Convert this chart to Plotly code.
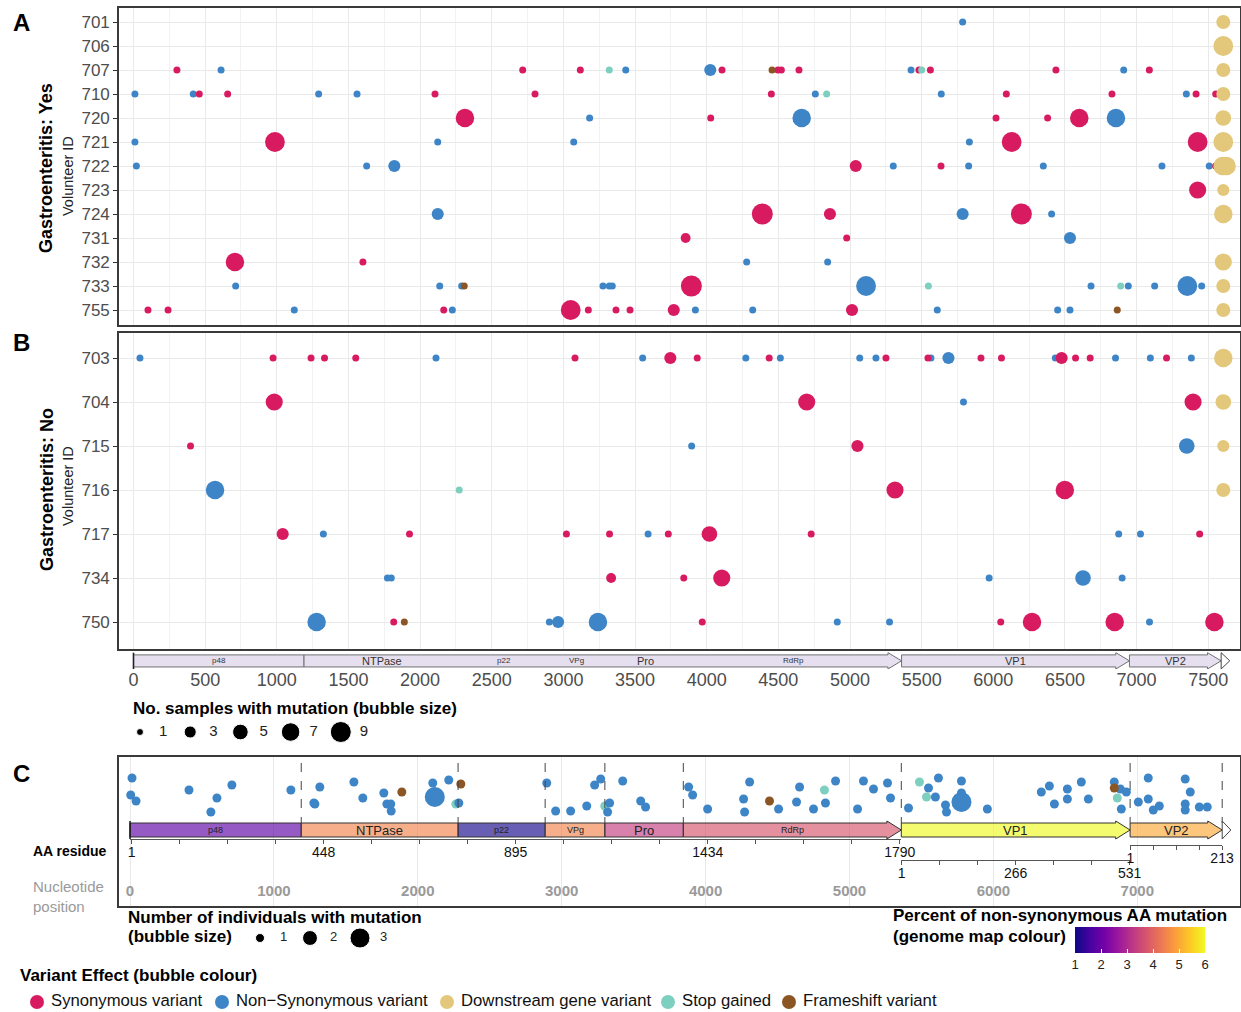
import plotly.graph_objects as go
from plotly.colors import sample_colorscale

W, H = 1241, 1012

# ------------------------------------------------------------------ data
A_IDS = ["701", "706", "707", "710", "720", "721", "722", "723", "724", "731", "732", "733", "755"]
B_IDS = ["703", "704", "715", "716", "717", "734", "750"]

# (nucleotide position, variant effect code, no. samples with mutation)
A_701 = [(5786, "N", 1), (7605, "D", 4)]
A_706 = [(7605, "D", 8)]
A_707 = [(303, "S", 1), (611, "N", 1), (2716, "S", 1), (3118, "S", 1), (3320, "X", 1), (3435, "N", 1),
         (4025, "N", 3), (4107, "S", 1), (4456, "F", 1), (4497, "S", 1), (4521, "S", 1), (4644, "S", 1),
         (5426, "N", 1), (5500, "X", 1), (5481, "S", 1), (5561, "S", 1), (6437, "S", 1), (6910, "N", 1),
         (7089, "S", 1), (7605, "D", 4)]
A_710 = [(10, "N", 1), (417, "N", 1), (459, "S", 1), (657, "S", 1), (1292, "N", 1), (1560, "N", 1),
         (2104, "S", 1), (2802, "S", 1), (4451, "S", 1), (4758, "N", 1), (4837, "X", 1), (5637, "N", 1),
         (6091, "S", 1), (6828, "S", 1), (7347, "N", 1), (7415, "S", 1), (7552, "S", 1), (7605, "D", 4)]
A_720 = [(2313, "S", 7), (3183, "N", 1), (4028, "S", 1), (4663, "N", 7), (6019, "S", 1), (6379, "S", 1),
         (6600, "S", 7), (6856, "N", 7), (7605, "D", 5)]
A_721 = [(10, "N", 1), (987, "S", 8), (2123, "N", 1), (3072, "N", 1), (5833, "N", 1), (6128, "S", 8),
         (7426, "S", 8), (7605, "D", 8)]
A_722 = [(20, "N", 1), (1627, "N", 1), (1820, "N", 3), (5040, "S", 3), (5302, "N", 1), (5635, "S", 1),
         (5828, "N", 1), (6349, "N", 1), (7177, "N", 1), (7507, "N", 1), (7552, "S", 1), (7600, "D", 7),
         (7628, "D", 7)]
A_723 = [(7426, "S", 6), (7605, "D", 3)]
A_724 = [(2123, "N", 3), (4388, "S", 9), (4860, "S", 3), (5786, "N", 3), (6196, "S", 9), (6407, "N", 1),
         (7605, "D", 7)]
A_731 = [(3853, "S", 2), (4977, "S", 1), (6535, "N", 3)]
A_732 = [(708, "S", 7), (1601, "S", 1), (4279, "N", 1), (4844, "N", 1), (7605, "D", 6)]
A_733 = [(713, "N", 1), (2137, "N", 1), (2290, "N", 1), (2308, "F", 1), (3276, "N", 1), (3320, "N", 1),
         (3341, "N", 1), (3893, "S", 9), (5112, "N", 8), (5547, "X", 1), (6682, "N", 1), (6889, "X", 1),
         (6942, "N", 1), (7126, "N", 1), (7354, "N", 8), (7454, "N", 1), (7605, "D", 4)]
A_755 = [(101, "S", 1), (241, "S", 1), (1122, "N", 1), (2165, "S", 1), (2225, "N", 1), (3051, "S", 8),
         (3174, "S", 1), (3367, "S", 1), (3465, "S", 1), (3770, "S", 3), (3921, "N", 1), (4321, "N", 1),
         (5014, "S", 3), (5609, "N", 1), (6449, "N", 1), (6535, "N", 1), (6865, "F", 1), (7605, "D", 4)]
A_ROWS = [A_701, A_706, A_707, A_710, A_720, A_721, A_722, A_723, A_724, A_731, A_732, A_733, A_755]

B_703 = [(45, "N", 1), (974, "S", 1), (1239, "S", 1), (1333, "S", 1), (1551, "S", 1), (2111, "N", 1),
         (3081, "S", 1), (3553, "N", 1), (3746, "S", 3), (3934, "S", 1), (4273, "N", 1), (4436, "S", 1),
         (4514, "N", 1), (5068, "N", 1), (5181, "N", 1), (5251, "S", 1), (5544, "S", 1), (5565, "N", 1),
         (5687, "N", 3), (5914, "S", 1), (6057, "S", 1), (6433, "N", 1), (6477, "S", 3), (6574, "S", 1),
         (6676, "S", 1), (6853, "N", 1), (7096, "N", 1), (7209, "S", 1), (7382, "N", 1), (7605, "D", 7)]
B_704 = [(982, "S", 6), (4698, "S", 6), (5792, "N", 1), (7394, "S", 6), (7605, "D", 5)]
B_715 = [(398, "S", 1), (3895, "N", 1), (5052, "S", 3), (7350, "N", 5), (7605, "D", 3)]
B_716 = [(569, "N", 7), (2273, "X", 1), (5314, "S", 6), (6499, "S", 7), (7605, "D", 4)]
B_717 = [(1041, "S", 3), (1325, "N", 1), (1926, "S", 1), (3021, "S", 1), (3322, "S", 1), (3591, "N", 1),
         (3732, "S", 1), (4019, "S", 5), (4729, "S", 1), (6875, "N", 1), (7027, "N", 1), (7440, "S", 1)]
B_734 = [(1772, "N", 1), (1799, "N", 1), (3333, "S", 2), (3840, "S", 1), (4105, "S", 6), (5971, "N", 1),
         (6626, "N", 5), (6899, "N", 1)]
B_750 = [(1278, "N", 7), (1816, "S", 1), (1890, "F", 1), (2902, "N", 1), (2963, "N", 3), (3241, "N", 7),
         (3969, "S", 1), (4911, "N", 1), (5276, "N", 1), (6052, "S", 1), (6270, "S", 7), (6847, "S", 7),
         (7090, "N", 1), (7543, "S", 7)]
B_ROWS = [B_703, B_704, B_715, B_716, B_717, B_734, B_750]

# Panel C: position, effect, number of individuals, vertical jitter (0..1)
C_POS = [14, 5, 42, 410, 562, 604, 708, 1118, 1319, 1278, 1285, 1556, 1618, 1764, 1785, 1812, 1815,
         1889, 2104, 2118, 2215, 2299, 2264, 2285, 2896, 2958, 3062, 3174, 3229, 3271, 3299, 3333,
         3319, 3424, 3549, 3583, 3882, 3910, 4014, 4264, 4271, 4306, 4444, 4507, 4632, 4653, 4750,
         4826, 4833, 4903, 5056, 5097, 5167, 5264, 5285, 5410, 5486, 5549, 5535, 5597, 5618, 5667,
         5674, 5778, 5778, 5778, 5958, 6333, 6389, 6424, 6514, 6514, 6611, 6660, 6840, 6840, 6882,
         6861, 6889, 6924, 7007, 7076, 7076, 7111, 7153, 7333, 7368, 7333, 7333, 7431, 7486]
C_EFFECT = list("NNNNNNNNNNNNNNNNN" "F" "NNN" "F" "X" "NNNNNNN" "X" "NNNNNNNNNNN" "F" "NNNN" "X"
                "NNNNNNNN" "X" "N" "X" "NNNNNNNNNNNNNNNN" "F" "N" "X" "NNNNNNNNNNNNN")
C_COUNT = [1] * 19 + [3] + [1] * 45 + [3] + [1] * 25
C_JITTER = [0.075, 0.5, 0.65, 0.375, 0.925, 0.575, 0.25, 0.375, 0.3, 0.7, 0.725, 0.175, 0.575, 0.45,
            0.725, 0.725, 0.9, 0.425, 0.2, 0.55, 0.125, 0.225, 0.725, 0.7, 0.2, 0.9, 0.9, 0.775, 0.25,
            0.1, 0.775, 0.7, 0.925, 0.15, 0.65, 0.8, 0.3, 0.5, 0.85, 0.6, 0.925, 0.175, 0.65, 0.85,
            0.675, 0.3, 0.85, 0.375, 0.7, 0.15, 0.85, 0.15, 0.35, 0.2, 0.575, 0.825, 0.175, 0.325,
            0.55, 0.55, 0.075, 0.75, 0.925, 0.15, 0.45, 0.675, 0.85, 0.425, 0.275, 0.725, 0.35, 0.6,
            0.175, 0.6, 0.175, 0.325, 0.35, 0.575, 0.85, 0.425, 0.675, 0.075, 0.6, 0.875, 0.775, 0.1,
            0.425, 0.725, 0.875, 0.8, 0.8]

# Genome map
GENES = ["p48", "NTPase", "p22", "VPg", "Pro", "RdRp", "VP1", "VP2"]
GENE_START = [0, 1190, 2280, 2885, 3300, 3845, 5360, 6950]
GENE_END = [1190, 2280, 2885, 3300, 3845, 5360, 6950, 7590]
GENE_ORF = [1, 1, 1, 1, 1, 1, 2, 3]
GENE_PCT_NONSYN = [1.85, 4.5, 1.1, 4.5, 3.35, 3.75, 6.0, 5.0]
ORF4 = [7590, 7650]

AB_TICKS = [0, 500, 1000, 1500, 2000, 2500, 3000, 3500, 4000, 4500, 5000, 5500, 6000, 6500, 7000, 7500]
C_TICKS = [0, 1000, 2000, 3000, 4000, 5000, 6000, 7000]
ORF1_AA_MAX, ORF1_AA_LABELS = 1790, ["1", "448", "895", "1434", "1790"]
VP1_AA_MAX, VP1_AA_LABELS = 531, ["1", "266", "531"]
VP2_AA_MAX, VP2_AA_LABELS = 213, ["1", "213"]

EFFECT_CODES = ["S", "N", "D", "X", "F"]
EFFECT_LABELS = ["Synonymous variant", "Non\u2212Synonymous variant", "Downstream gene variant",
                 "Stop gained", "Frameshift variant"]
AB_SIZE_LEGEND = [1, 3, 5, 7, 9]
C_SIZE_LEGEND = [1, 2, 3]
PCT_RANGE = [1, 6]

# ------------------------------------------------------------------ styles
EFFECT_COLORS = {"S": "#d81b60", "N": "#3d85c6", "D": "#e3c77a", "X": "#7dcfc0", "F": "#8c5524"}
GRID = "#e9e9e9"
GRID_MINOR = "#f2f2f2"
BORDER = "#3a3a3a"
FONT = "Liberation Sans, Arial, Helvetica, sans-serif"
MAP_ALPHA = 0.65


def P(x):
    return x / W


def Q(y):
    return 1 - y / H


def size_ab(n):
    return 7.0 * n ** 0.5


def size_c(n):
    return 9.0 * n ** 0.73


AB_LEFT, AB_RIGHT, AB_ORIGIN, AB_SCALE = 119, 1240, 133.5, 0.1433
ab_range = [(AB_LEFT - AB_ORIGIN) / AB_SCALE, (AB_RIGHT - AB_ORIGIN) / AB_SCALE]
C_ORIGIN, C_SCALE = 130, 0.1439
c_range = [(AB_LEFT - C_ORIGIN) / C_SCALE, (AB_RIGHT - C_ORIGIN) / C_SCALE]


def c_paper(nt):
    return P(C_ORIGIN + nt * C_SCALE)


def row_range(top, bottom, first, spacing):
    return [(bottom - first) / spacing, -(first - top) / spacing]


fig = go.Figure()

# ------------------------------------------------------------------ panels A & B bubbles
DRAW_ORDER = ["N", "S", "X", "F", "D"]
for rows, xa, ya in [(A_ROWS, "x", "y"), (B_ROWS, "x2", "y2")]:
    for code in DRAW_ORDER:
        xs, ys, ss = [], [], []
        for i, row in enumerate(rows):
            for pos, eff, n in row:
                if eff == code:
                    xs.append(pos)
                    ys.append(i)
                    ss.append(size_ab(n))
        fig.add_trace(go.Scatter(x=xs, y=ys, mode="markers", xaxis=xa, yaxis=ya,
                                 marker=dict(size=ss, color=EFFECT_COLORS[code], line=dict(width=0), opacity=1),
                                 showlegend=False, hoverinfo="skip"))

# ------------------------------------------------------------------ panel C bubbles
for code in ["X", "N", "F"]:
    xs = [p for p, e in zip(C_POS, C_EFFECT) if e == code]
    ys = [j for j, e in zip(C_JITTER, C_EFFECT) if e == code]
    ss = [size_c(n) for n, e in zip(C_COUNT, C_EFFECT) if e == code]
    fig.add_trace(go.Scatter(x=xs, y=ys, mode="markers", xaxis="x4", yaxis="y4",
                             marker=dict(size=ss, color=EFFECT_COLORS[code], line=dict(width=0), opacity=1),
                             showlegend=False, hoverinfo="skip"))

# dummy traces for helper subplots
for k in ["3", "5", "6", "7", "8"]:
    fig.add_trace(go.Scatter(x=[None], y=[None], xaxis="x" + k, yaxis="y" + k, showlegend=False,
                             hoverinfo="skip"))

# ------------------------------------------------------------------ legends (overlay axes)
# bubble-size legend A/B
lx = [140 + 50.2 * i for i in range(len(AB_SIZE_LEGEND))]
fig.add_trace(go.Scatter(x=lx, y=[732] * len(lx), mode="markers", xaxis="x9", yaxis="y9",
                         marker=dict(size=[size_ab(n) for n in AB_SIZE_LEGEND], color="black", opacity=1),
                         showlegend=False, hoverinfo="skip"))
fig.add_trace(go.Scatter(x=[v + 19 for v in lx], y=[732] * len(lx), mode="text", xaxis="x9", yaxis="y9",
                         text=[str(n) for n in AB_SIZE_LEGEND], textposition="middle right",
                         textfont=dict(size=15, color="#222"), showlegend=False, hoverinfo="skip"))
# bubble-size legend C
cx = [260 + 50 * i for i in range(len(C_SIZE_LEGEND))]
fig.add_trace(go.Scatter(x=cx, y=[938] * len(cx), mode="markers", xaxis="x9", yaxis="y9",
                         marker=dict(size=[size_c(n) for n in C_SIZE_LEGEND], color="black", opacity=1),
                         showlegend=False, hoverinfo="skip"))
fig.add_trace(go.Scatter(x=[v + 20 for v in cx], y=[938] * len(cx), mode="text", xaxis="x9", yaxis="y9",
                         text=[str(n) for n in C_SIZE_LEGEND], textposition="middle right",
                         textfont=dict(size=13, color="#222"), showlegend=False, hoverinfo="skip"))
# variant effect legend
ex = [37, 222, 447, 668, 789]
fig.add_trace(go.Scatter(x=ex, y=[1002] * len(ex), mode="markers", xaxis="x9", yaxis="y9",
                         marker=dict(size=14, color=[EFFECT_COLORS[c] for c in EFFECT_CODES], opacity=1),
                         showlegend=False, hoverinfo="skip"))
fig.add_trace(go.Scatter(x=[v + 14 for v in ex], y=[1002] * len(ex), mode="text", xaxis="x9", yaxis="y9",
                         text=EFFECT_LABELS, textposition="middle right",
                         textfont=dict(size=16.7, color="#111"), showlegend=False, hoverinfo="skip"))
# colour bar for genome map percentages
fig.add_trace(go.Scatter(x=[-100], y=[-100], mode="markers", xaxis="x9", yaxis="y9",
                         marker=dict(size=1, color=[PCT_RANGE[0]], cmin=PCT_RANGE[0], cmax=PCT_RANGE[1],
                                     colorscale="Plasma", showscale=True,
                                     colorbar=dict(orientation="h", x=P(1140), xanchor="center",
                                                   y=Q(927), yanchor="top", len=130 / W, lenmode="fraction",
                                                   thickness=26, thicknessmode="pixels", outlinewidth=0,
                                                   tickmode="array", tickvals=list(range(1, 7)),
                                                   ticks="inside", ticklen=4, tickcolor="white",
                                                   tickfont=dict(size=13, color="#222"), xpad=0, ypad=0)),
                         showlegend=False, hoverinfo="skip"))

# ------------------------------------------------------------------ genome maps (shapes)
shapes = []
annotations = []


def rect_path(x0, x1, b0, b1):
    return f"M {x0},{b0} L {x1},{b0} L {x1},{b1} L {x0},{b1} Z"


def arrow_path(x0, x1, b0, b1, h0, h1, head):
    xm = x1 - head
    mid = (h0 + h1) / 2
    return (f"M {x0},{b0} L {xm},{b0} L {xm},{h0} L {x1},{mid} L {xm},{h1} "
            f"L {xm},{b1} L {x0},{b1} Z")


def tri_path(x0, x1, h0, h1):
    return f"M {x0},{h0} L {x1},{(h0 + h1) / 2} L {x0},{h1} Z"


# A/B map on x3/y3 (y 0..1)
LAV, LAV_LINE = "#e6dff0", "#707070"
B0, B1, H0, H1 = 0.12, 0.83, 0.0, 0.96
segs = [(GENE_START[0], GENE_END[0], False)]
orf1_rest_start = GENE_START[1]
orf1_end = max(e for e, o in zip(GENE_END, GENE_ORF) if o == 1)
segs.append((orf1_rest_start, orf1_end, True))
for s, e, o in zip(GENE_START, GENE_END, GENE_ORF):
    if o != 1:
        segs.append((s, e, True))
for s, e, is_arrow in segs:
    path = arrow_path(s, e, B0, B1, H0, H1, 95) if is_arrow else rect_path(s, e, B0, B1)
    shapes.append(dict(type="path", path=path, xref="x3", yref="y3", fillcolor=LAV,
                       line=dict(color=LAV_LINE, width=1)))
shapes.append(dict(type="path", path=tri_path(ORF4[0], ORF4[1], H0, H1), xref="x3", yref="y3",
                   fillcolor="white", line=dict(color="#444", width=1)))
shapes.append(dict(type="line", x0=GENE_START[0], x1=GENE_START[0], y0=H0, y1=H1, xref="x3", yref="y3",
                   line=dict(color="#222", width=1.6)))
BIG_LABEL = {"NTPase", "Pro", "VP1", "VP2"}
for g, s, e in zip(GENES, GENE_START, GENE_END):
    annotations.append(dict(text=g, x=(s + e) / 2, y=(B0 + B1) / 2, xref="x3", yref="y3", showarrow=False,
                            font=dict(size=11 if g in BIG_LABEL else 8, color="#333"),
                            xanchor="center", yanchor="middle"))

# C map on x4/y4 (jitter units)
CB0, CB1, CH0, CH1 = 1.55, 1.2, 1.6, 1.15
gene_cols = sample_colorscale("Plasma", [(p - PCT_RANGE[0]) / (PCT_RANGE[1] - PCT_RANGE[0])
                                         for p in GENE_PCT_NONSYN])


def to_rgba(c, a):
    r, g, b = [float(v) for v in c[c.index("(") + 1:c.index(")")].split(",")]
    return f"rgba({int(r)},{int(g)},{int(b)},{a})"


for i, (g, s, e, o) in enumerate(zip(GENES, GENE_START, GENE_END, GENE_ORF)):
    is_arrow = (i == len(GENES) - 1) or (GENE_ORF[i + 1] != o)
    path = arrow_path(s, e, CB0, CB1, CH0, CH1, 100) if is_arrow else rect_path(s, e, CB0, CB1)
    shapes.append(dict(type="path", path=path, xref="x4", yref="y4",
                       fillcolor=to_rgba(gene_cols[i], MAP_ALPHA), line=dict(color="#333", width=1)))
    annotations.append(dict(text=g, x=(s + e) / 2, y=(CB0 + CB1) / 2, xref="x4", yref="y4", showarrow=False,
                            font=dict(size=13 if g in BIG_LABEL else 9, color="#222"),
                            xanchor="center", yanchor="middle"))
    shapes.append(dict(type="line", x0=e, x1=e, y0=-0.3, y1=CB1, xref="x4", yref="y4",
                       line=dict(color="#444", width=1, dash="dash")))
shapes.append(dict(type="path", path=tri_path(ORF4[0], ORF4[1], CH0, CH1), xref="x4", yref="y4",
                   fillcolor="white", line=dict(color="#444", width=1)))
shapes.append(dict(type="line", x0=GENE_START[0], x1=GENE_START[0], y0=CH1, y1=CH0, xref="x4", yref="y4",
                   line=dict(color="#111", width=1.4)))

# ------------------------------------------------------------------ text annotations
def ann(text, x, y, size, color="#000", xanchor="left", yanchor="middle", angle=0, align="left"):
    annotations.append(dict(text=text, x=P(x), y=Q(y), xref="paper", yref="paper", showarrow=False,
                            font=dict(size=size, color=color), xanchor=xanchor, yanchor=yanchor,
                            textangle=angle, align=align))


ann("<b>A</b>", 21, 23, 24, xanchor="center")
ann("<b>B</b>", 21, 343, 24, xanchor="center")
ann("<b>C</b>", 21, 773, 24, xanchor="center")
ann("<b>Gastroenteritis: Yes</b>", 46, 168, 18, xanchor="center", angle=-90)
ann("Volunteer ID", 68, 176, 14.5, color="#222", xanchor="center", angle=-90)
ann("<b>Gastroenteritis: No</b>", 47, 490, 18, xanchor="center", angle=-90)
ann("Volunteer ID", 68, 486, 14.5, color="#222", xanchor="center", angle=-90)
ann("<b>No. samples with mutation (bubble size)</b>", 131, 708, 17)
ann("<b>AA residue</b>", 31, 851, 14)
ann("Nucleotide<br>position", 31, 896, 15, color="#9a9a9a")
ann("<b>Number of individuals with mutation</b>", 126, 917, 17)
ann("<b>(bubble size)</b>", 126, 936, 17)
ann("<b>Percent of non-synonymous AA mutation</b>", 891, 915, 17)
ann("<b>(genome map colour)</b>", 891, 936, 17)
ann("<b>Variant Effect (bubble colour)</b>", 18, 975, 17)

# ------------------------------------------------------------------ axes
box = dict(showline=True, mirror=True, linecolor=BORDER, linewidth=1.6, zeroline=False)
ab_x = dict(range=ab_range, tickmode="linear", dtick=500, tick0=0, showgrid=True, gridcolor=GRID,
            gridwidth=1.3, minor=dict(dtick=250, tick0=0, showgrid=True, gridcolor=GRID_MINOR, gridwidth=1),
            showticklabels=False, ticks="", **box)
ab_y = dict(tickmode="array", showgrid=True, gridcolor=GRID, gridwidth=1.3, ticks="outside", ticklen=4,
            tickcolor="#333", tickwidth=1, tickfont=dict(size=17, color="#4d4d4d"), **box)


def aa_axis(amax, labels, anchor, nt0, nt1, n_int):
    step = (amax - 1) / n_int
    vals = [1 + i * step for i in range(n_int + 1)]
    every = n_int // (len(labels) - 1)
    text = [labels[i // every] if i % every == 0 else "" for i in range(n_int + 1)]
    eps = 0.002 * (amax - 1)
    return dict(domain=[c_paper(nt0), c_paper(nt1)], range=[1 - eps, amax + eps], anchor=anchor,
                tickmode="array", tickvals=vals, ticktext=text, ticks="outside", ticklen=4,
                tickcolor="#555", tickwidth=1, showline=True, linecolor="#555", linewidth=1,
                showgrid=False, zeroline=False, tickfont=dict(size=14, color="#111"),
                ticklabelstandoff=-4)


def line_y(ypx, anchor):
    return dict(domain=[Q(ypx), Q(ypx) + 0.0005], range=[0, 1], visible=False, anchor=anchor)


vp1_i = GENES.index("VP1")
vp2_i = GENES.index("VP2")

fig.update_layout(
    width=W, height=H, autosize=False,
    margin=dict(l=0, r=0, t=0, b=0, pad=0, autoexpand=False),
    paper_bgcolor="white", plot_bgcolor="rgba(0,0,0,0)",
    font=dict(family=FONT, color="#000"),
    hovermode=False, showlegend=False,
    xaxis=dict(domain=[P(AB_LEFT), P(AB_RIGHT)], anchor="y", **ab_x),
    yaxis=dict(domain=[Q(325), Q(8)], anchor="x", range=row_range(8, 325, 22, 24),
               tickvals=list(range(len(A_IDS))), ticktext=A_IDS, **ab_y),
    xaxis2=dict(domain=[P(AB_LEFT), P(AB_RIGHT)], anchor="y2", **ab_x),
    yaxis2=dict(domain=[Q(649), Q(333)], anchor="x2", range=row_range(333, 649, 358, 44),
                tickvals=list(range(len(B_IDS))), ticktext=B_IDS, **ab_y),
    xaxis3=dict(domain=[P(AB_LEFT), P(AB_RIGHT)], anchor="y3", range=ab_range, tickmode="array",
                tickvals=AB_TICKS, ticktext=[str(t) for t in AB_TICKS], ticks="", showgrid=False,
                zeroline=False, showline=False, tickfont=dict(size=18, color="#4d4d4d"),
                ticklabelstandoff=-2),
    yaxis3=dict(domain=[Q(669), Q(652)], anchor="x3", range=[0, 1], visible=False),
    xaxis4=dict(domain=[P(AB_LEFT), P(AB_RIGHT)], anchor="y4", range=c_range, tickmode="linear",
                dtick=1000, tick0=0, showgrid=True, gridcolor=GRID, gridwidth=1.3,
                showticklabels=False, ticks="", **box),
    yaxis4=dict(domain=[Q(906), Q(757)], anchor="x4", range=[3.275, -0.45], showgrid=False,
                showticklabels=False, ticks="", **box),
    xaxis5=aa_axis(ORF1_AA_MAX, ORF1_AA_LABELS, "y5", GENE_START[0], orf1_end, 16),
    yaxis5=line_y(839, "x5"),
    xaxis6=aa_axis(VP1_AA_MAX, VP1_AA_LABELS, "y6", GENE_START[vp1_i], GENE_END[vp1_i], 6),
    yaxis6=line_y(860, "x6"),
    xaxis7=aa_axis(VP2_AA_MAX, VP2_AA_LABELS, "y7", GENE_START[vp2_i], GENE_END[vp2_i], 4),
    yaxis7=line_y(845, "x7"),
    xaxis8=dict(domain=[P(AB_LEFT), P(AB_RIGHT)], anchor="y8", range=c_range, tickmode="array",
                tickvals=C_TICKS, ticktext=[str(t) for t in C_TICKS], ticks="", showgrid=False,
                zeroline=False, showline=False,
                tickfont=dict(size=15, color="#9a9a9a", weight="bold")),
    yaxis8=line_y(880, "x8"),
    xaxis9=dict(domain=[0, 1], range=[0, W], visible=False, anchor="y9"),
    yaxis9=dict(domain=[0, 1], range=[H, 0], visible=False, anchor="x9"),
    shapes=shapes,
    annotations=annotations,
)

fig.write_html(
    "out.html",
    config={"displayModeBar": False, "responsive": False},
    default_width="1241px", default_height="1012px",
    post_script=("document.body.style.margin='0px';document.body.style.overflow='hidden';"
                 "document.documentElement.style.overflow='hidden';"),
)
